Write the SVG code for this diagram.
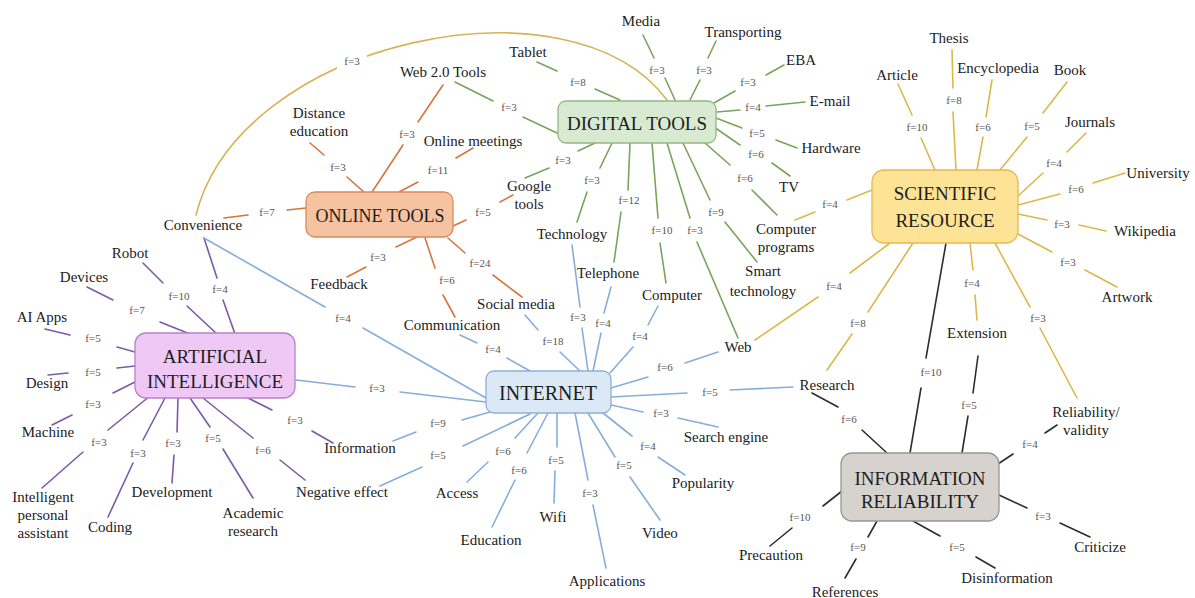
<svg xmlns="http://www.w3.org/2000/svg" width="1195" height="598" viewBox="0 0 1195 598">
<style>
.e{fill:none;stroke-width:1.6;stroke-linecap:round}
.dt{stroke:#7aa35c}.ot{stroke:#d8743c}.sr{stroke:#dcb84a}.ai{stroke:#7b5aa6}.in{stroke:#86aedb}.ir{stroke:#2e2e2e}.cv{stroke:#d6b458}
.lb{font-family:"Liberation Serif",serif;font-size:11px;fill:#555;text-anchor:middle;dominant-baseline:central}
.tx{font-family:"Liberation Serif",serif;font-size:15px;fill:#222;text-anchor:middle;dominant-baseline:central}
.ht{font-family:"Liberation Serif",serif;font-size:19px;fill:#1e1e1e;text-anchor:middle;dominant-baseline:central}
.hb{stroke-width:1.3}
</style>
<rect width="1195" height="598" fill="#ffffff"/>
<g id="connectors">
 <g id="curve">
  <path class="e cv" d="M196,215 C240,40 570,-30 667,100"/>
  <rect x="337" y="53" width="30" height="16" fill="#fff"/>
  <text class="lb" x="352" y="61">f=3</text>
 </g>
 <g id="digital-edges">
  <path class="e dt" d="M675,100 L665,78 M654,58 L643,35"/><text class="lb" x="657" y="70">f=3</text>
  <path class="e dt" d="M690,100 L700,80 M708,58 L716,41"/><text class="lb" x="704" y="70">f=3</text>
  <path class="e dt" d="M714,103 L735,91 M766,75 L784,65"/><text class="lb" x="748" y="82">f=3</text>
  <path class="e dt" d="M717,112 L740,110 M766,106 L805,102"/><text class="lb" x="753" y="107">f=4</text>
  <path class="e dt" d="M716,118 L742,128 M776,140 L797,148"/><text class="lb" x="757" y="133">f=5</text>
  <path class="e dt" d="M714,127 L740,145 M772,163 L790,176"/><text class="lb" x="756" y="154">f=6</text>
  <path class="e dt" d="M705,143 L730,165 M752,190 L777,215"/><text class="lb" x="745" y="178">f=6</text>
  <path class="e dt" d="M683,143 L710,200 M725,222 L757,262"/><text class="lb" x="716" y="212">f=9</text>
  <path class="e dt" d="M667,143 L690,218 M697,242 L738,338"/><text class="lb" x="695" y="230">f=3</text>
  <path class="e dt" d="M652,143 L658,218 M660,243 L666,283"/><text class="lb" x="662" y="230">f=10</text>
  <path class="e dt" d="M630,143 L628,190 M621,212 L614,262"/><text class="lb" x="629" y="200">f=12</text>
  <path class="e dt" d="M612,143 L600,168 M587,192 L577,222"/><text class="lb" x="592" y="180">f=3</text>
  <path class="e dt" d="M595,143 L578,151 M549,168 L525,178"/><text class="lb" x="563" y="160">f=3</text>
  <path class="e dt" d="M455,82 L493,101 M523,117 L557,133"/><text class="lb" x="509" y="107">f=3</text>
  <path class="e dt" d="M537,62 L557,71 M595,89 L620,100"/><text class="lb" x="578" y="82">f=8</text>
 </g>
 <g id="online-edges">
  <path class="e ot" d="M306,208 L287,210 M248,215 L224,218"/><text class="lb" x="267" y="212">f=7</text>
  <path class="e ot" d="M310,143 L324,155 M347,177 L365,193"/><text class="lb" x="338" y="167">f=3</text>
  <path class="e ot" d="M443,85 L418,122 M403,145 L372,192"/><text class="lb" x="407" y="134">f=3</text>
  <path class="e ot" d="M473,148 L456,158 M418,182 L399,192"/><text class="lb" x="438" y="170">f=11</text>
  <path class="e ot" d="M513,195 L500,202 M466,220 L453,226"/><text class="lb" x="483" y="212">f=5</text>
  <path class="e ot" d="M417,237 L396,247 M366,267 L347,277"/><text class="lb" x="378" y="257">f=3</text>
  <path class="e ot" d="M425,238 L435,268 M443,295 L455,317"/><text class="lb" x="447" y="280">f=6</text>
  <path class="e ot" d="M448,238 L465,253 M493,275 L522,297"/><text class="lb" x="480" y="263">f=24</text>
 </g>
 <g id="scientific-edges">
  <path class="e sr" d="M898,84 L912,115 M921,138 L935,170"/><text class="lb" x="917" y="127">f=10</text>
  <path class="e sr" d="M952,50 L953,88 M953,112 L956,170"/><text class="lb" x="954" y="100">f=8</text>
  <path class="e sr" d="M992,80 L986,117 M983,137 L977,170"/><text class="lb" x="983" y="127">f=6</text>
  <path class="e sr" d="M1067,82 L1043,113 M1027,137 L1000,170"/><text class="lb" x="1032" y="126">f=5</text>
  <path class="e sr" d="M1086,133 L1067,152 M1043,173 L1018,196"/><text class="lb" x="1054" y="163">f=4</text>
  <path class="e sr" d="M1125,173 L1093,183 M1060,194 L1018,205"/><text class="lb" x="1076" y="189">f=6</text>
  <path class="e sr" d="M1018,214 L1047,220 M1079,225 L1106,231"/><text class="lb" x="1062" y="224">f=3</text>
  <path class="e sr" d="M1018,234 L1052,252 M1085,270 L1117,287"/><text class="lb" x="1068" y="262">f=3</text>
  <path class="e sr" d="M995,243 L1030,307 M1040,328 L1077,398"/><text class="lb" x="1038" y="318">f=3</text>
  <path class="e sr" d="M970,243 L973,270 M975,295 L977,320"/><text class="lb" x="972" y="283">f=4</text>
  <path class="e sr" d="M913,243 L868,312 M852,334 L827,370"/><text class="lb" x="858" y="323">f=8</text>
  <path class="e sr" d="M890,243 L850,273 M818,297 L755,340"/><text class="lb" x="834" y="286">f=4</text>
  <path class="e sr" d="M872,190 L847,200 M815,212 L795,220"/><text class="lb" x="830" y="204">f=4</text>
 </g>
 <g id="ai-edges">
  <path class="e ai" d="M204,238 L217,278 M223,300 L235,334"/><text class="lb" x="220" y="289">f=4</text>
  <path class="e ai" d="M143,263 L163,283 M187,306 L217,334"/><text class="lb" x="179" y="296">f=10</text>
  <path class="e ai" d="M87,287 L113,300 M160,322 L190,334"/><text class="lb" x="137" y="310">f=7</text>
  <path class="e ai" d="M45,329 L70,335 M117,347 L135,352"/><text class="lb" x="93" y="338">f=5</text>
  <path class="e ai" d="M48,375 L68,373 M117,368 L135,366"/><text class="lb" x="93" y="372">f=5</text>
  <path class="e ai" d="M135,382 L113,393 M72,415 L52,425"/><text class="lb" x="93" y="404">f=3</text>
  <path class="e ai" d="M150,396 L108,430 M83,452 L42,488"/><text class="lb" x="99" y="442">f=3</text>
  <path class="e ai" d="M165,398 L143,440 M133,463 L108,517"/><text class="lb" x="138" y="453">f=3</text>
  <path class="e ai" d="M178,398 L177,432 M174,455 L172,483"/><text class="lb" x="173" y="443">f=3</text>
  <path class="e ai" d="M190,398 L210,427 M223,449 L253,498"/><text class="lb" x="213" y="438">f=5</text>
  <path class="e ai" d="M203,398 L253,438 M280,460 L305,480"/><text class="lb" x="263" y="450">f=6</text>
  <path class="e ai" d="M248,398 L272,410 M312,431 L333,443"/><text class="lb" x="295" y="420">f=3</text>
 </g>
 <g id="internet-edges">
  <path class="e in" d="M296,380 L355,387 M400,392 L486,402"/><text class="lb" x="377" y="388">f=3</text>
  <path class="e in" d="M204,238 L325,307 M363,328 L486,398"/><text class="lb" x="343" y="318">f=4</text>
  <path class="e in" d="M490,412 L462,420 M416,432 L393,441"/><text class="lb" x="438" y="423">f=9</text>
  <path class="e in" d="M530,414 L463,446 M422,467 L380,486"/><text class="lb" x="438" y="455">f=5</text>
  <path class="e in" d="M538,413 L515,438 M488,462 L467,482"/><text class="lb" x="503" y="451">f=6</text>
  <path class="e in" d="M548,413 L527,453 M515,480 L492,527"/><text class="lb" x="519" y="470">f=6</text>
  <path class="e in" d="M557,413 L557,447 M555,471 L554,503"/><text class="lb" x="556" y="460">f=5</text>
  <path class="e in" d="M575,413 L588,480 M593,505 L606,568"/><text class="lb" x="590" y="493">f=3</text>
  <path class="e in" d="M588,413 L615,457 M630,477 L660,520"/><text class="lb" x="624" y="465">f=5</text>
  <path class="e in" d="M603,413 L632,436 M658,457 L685,475"/><text class="lb" x="648" y="446">f=4</text>
  <path class="e in" d="M611,405 L643,412 M678,418 L718,427"/><text class="lb" x="661" y="413">f=3</text>
  <path class="e in" d="M611,397 L687,393 M730,390 L793,387"/><text class="lb" x="710" y="392">f=5</text>
  <path class="e in" d="M611,388 L648,377 M685,363 L718,352"/><text class="lb" x="665" y="367">f=6</text>
  <path class="e in" d="M610,373 L633,347 M648,325 L658,306"/><text class="lb" x="640" y="336">f=4</text>
  <path class="e in" d="M593,371 L601,333 M604,313 L611,287"/><text class="lb" x="603" y="323">f=4</text>
  <path class="e in" d="M572,245 L580,307 M582,328 L588,371"/><text class="lb" x="578" y="317">f=3</text>
  <path class="e in" d="M525,315 L538,330 M560,352 L580,371"/><text class="lb" x="553" y="341">f=18</text>
  <path class="e in" d="M460,335 L477,343 M507,358 L530,371"/><text class="lb" x="493" y="349">f=4</text>
 </g>
 <g id="reliability-edges">
  <path class="e ir" d="M946,243 L926,358 M921,388 L910,453"/><text class="lb" x="931" y="372">f=10</text>
  <path class="e ir" d="M978,356 L973,393 M968,416 L962,453"/><text class="lb" x="969" y="405">f=5</text>
  <path class="e ir" d="M812,393 L838,407 M862,430 L887,453"/><text class="lb" x="849" y="419">f=6</text>
  <path class="e ir" d="M998,464 L1013,454 M1045,433 L1057,425"/><text class="lb" x="1030" y="444">f=4</text>
  <path class="e ir" d="M999,495 L1027,508 M1060,523 L1090,537"/><text class="lb" x="1043" y="516">f=3</text>
  <path class="e ir" d="M913,521 L940,536 M976,557 L995,568"/><text class="lb" x="957" y="547">f=5</text>
  <path class="e ir" d="M877,521 L868,537 M856,559 L845,578"/><text class="lb" x="858" y="547">f=9</text>
  <path class="e ir" d="M842,491 L823,506 M792,528 L770,546"/><text class="lb" x="800" y="517">f=10</text>
 </g>
</g>
<g id="hub-digital-tools"><rect class="hb" x="558" y="101" width="158" height="42" rx="8" fill="#d9ead3" stroke="#93b882"/><text class="ht" x="637" y="123">DIGITAL TOOLS</text></g>
<g id="hub-online-tools"><rect class="hb" x="306" y="192" width="147" height="45" rx="9" fill="#f5c3a1" stroke="#d98a5a"/><text class="ht" x="380" y="216" style="font-size:18px">ONLINE TOOLS</text></g>
<g id="hub-scientific-resource"><rect class="hb" x="872" y="170" width="146" height="73" rx="12" fill="#fde396" stroke="#e6b94e"/><text class="ht" x="945" y="193">SCIENTIFIC</text><text class="ht" x="945" y="220">RESOURCE</text></g>
<g id="hub-artificial-intelligence"><rect class="hb" x="135" y="333" width="160" height="65" rx="11" fill="#f0c8f5" stroke="#b583c9"/><text class="ht" x="215" y="356">ARTIFICIAL</text><text class="ht" x="215" y="381">INTELLIGENCE</text></g>
<g id="hub-internet"><rect class="hb" x="486" y="371" width="125" height="42" rx="8" fill="#dbe8f5" stroke="#8eb0d4"/><text class="ht" x="548" y="393" style="font-size:20px">INTERNET</text></g>
<g id="hub-information-reliability"><rect class="hb" x="841" y="453" width="158" height="68" rx="11" fill="#d6d2cd" stroke="#9b958d"/><text class="ht" x="920" y="478">INFORMATION</text><text class="ht" x="920" y="501">RELIABILITY</text></g>
<g id="leaves">
 <g id="n-media"><text class="tx" x="641" y="21">Media</text></g>
 <g id="n-transporting"><text class="tx" x="743" y="32">Transporting</text></g>
 <g id="n-eba"><text class="tx" x="801" y="60">EBA</text></g>
 <g id="n-email"><text class="tx" x="830" y="101">E-mail</text></g>
 <g id="n-hardware"><text class="tx" x="831" y="148">Hardware</text></g>
 <g id="n-tv"><text class="tx" x="789" y="187">TV</text></g>
 <g id="n-computer-programs"><text class="tx" x="786" y="229">Computer</text><text class="tx" x="786" y="247">programs</text></g>
 <g id="n-smart-technology"><text class="tx" x="763" y="271">Smart</text><text class="tx" x="763" y="291">technology</text></g>
 <g id="n-web"><text class="tx" x="738" y="347">Web</text></g>
 <g id="n-computer"><text class="tx" x="672" y="295">Computer</text></g>
 <g id="n-telephone"><text class="tx" x="608" y="273">Telephone</text></g>
 <g id="n-technology"><text class="tx" x="572" y="234">Technology</text></g>
 <g id="n-google-tools"><text class="tx" x="529" y="186">Google</text><text class="tx" x="529" y="204">tools</text></g>
 <g id="n-web20"><text class="tx" x="443" y="72">Web 2.0 Tools</text></g>
 <g id="n-tablet"><text class="tx" x="528" y="52">Tablet</text></g>
 <g id="n-distance-education"><text class="tx" x="319" y="113">Distance</text><text class="tx" x="319" y="131">education</text></g>
 <g id="n-online-meetings"><text class="tx" x="473" y="141">Online meetings</text></g>
 <g id="n-convenience"><text class="tx" x="203" y="225">Convenience</text></g>
 <g id="n-feedback"><text class="tx" x="339" y="284">Feedback</text></g>
 <g id="n-communication"><text class="tx" x="452" y="325">Communication</text></g>
 <g id="n-social-media"><text class="tx" x="516" y="304">Social media</text></g>
 <g id="n-article"><text class="tx" x="897" y="75">Article</text></g>
 <g id="n-thesis"><text class="tx" x="949" y="38">Thesis</text></g>
 <g id="n-encyclopedia"><text class="tx" x="998" y="68">Encyclopedia</text></g>
 <g id="n-book"><text class="tx" x="1070" y="70">Book</text></g>
 <g id="n-journals"><text class="tx" x="1090" y="122">Journals</text></g>
 <g id="n-university"><text class="tx" x="1158" y="173">University</text></g>
 <g id="n-wikipedia"><text class="tx" x="1145" y="231">Wikipedia</text></g>
 <g id="n-artwork"><text class="tx" x="1127" y="297">Artwork</text></g>
 <g id="n-reliability-validity"><text class="tx" x="1086" y="412">Reliability/</text><text class="tx" x="1086" y="430">validity</text></g>
 <g id="n-extension"><text class="tx" x="977" y="333">Extension</text></g>
 <g id="n-research"><text class="tx" x="827" y="385">Research</text></g>
 <g id="n-robot"><text class="tx" x="130" y="253">Robot</text></g>
 <g id="n-devices"><text class="tx" x="84" y="277">Devices</text></g>
 <g id="n-ai-apps"><text class="tx" x="42" y="317">AI Apps</text></g>
 <g id="n-design"><text class="tx" x="47" y="383">Design</text></g>
 <g id="n-machine"><text class="tx" x="48" y="432">Machine</text></g>
 <g id="n-ipa"><text class="tx" x="43" y="497">Intelligent</text><text class="tx" x="43" y="515">personal</text><text class="tx" x="43" y="533">assistant</text></g>
 <g id="n-coding"><text class="tx" x="110" y="527">Coding</text></g>
 <g id="n-development"><text class="tx" x="172" y="492">Development</text></g>
 <g id="n-academic-research"><text class="tx" x="253" y="513">Academic</text><text class="tx" x="253" y="531">research</text></g>
 <g id="n-negative-effect"><text class="tx" x="342" y="492">Negative effect</text></g>
 <g id="n-information"><text class="tx" x="360" y="448">Information</text></g>
 <g id="n-access"><text class="tx" x="457" y="493">Access</text></g>
 <g id="n-education"><text class="tx" x="491" y="540">Education</text></g>
 <g id="n-wifi"><text class="tx" x="553" y="517">Wifi</text></g>
 <g id="n-applications"><text class="tx" x="607" y="581">Applications</text></g>
 <g id="n-video"><text class="tx" x="660" y="533">Video</text></g>
 <g id="n-popularity"><text class="tx" x="703" y="483">Popularity</text></g>
 <g id="n-search-engine"><text class="tx" x="726" y="437">Search engine</text></g>
 <g id="n-precaution"><text class="tx" x="771" y="555">Precaution</text></g>
 <g id="n-references"><text class="tx" x="845" y="592">References</text></g>
 <g id="n-disinformation"><text class="tx" x="1007" y="578">Disinformation</text></g>
 <g id="n-criticize"><text class="tx" x="1100" y="547">Criticize</text></g>
</g>
</svg>
